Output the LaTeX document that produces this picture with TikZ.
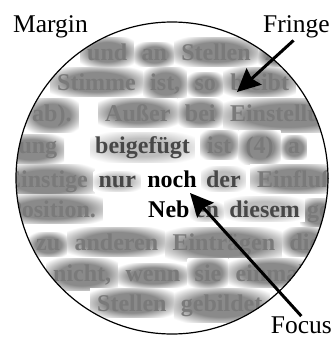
\documentclass[tikz,border=0pt]{standalone}
\usepackage{fontspec}
\setmainfont{Liberation Serif}
\usepackage{tikz}
\usetikzlibrary{calc, positioning, arrows.meta}

% soft smudges behind out-of-focus words
\pgfdeclareradialshading{smudge}{\pgfpointorigin}{color(0bp)=(black!46); color(17bp)=(black!46); color(32bp)=(white); color(50bp)=(white)}
\pgfdeclareradialshading{smudgelight}{\pgfpointorigin}{color(0bp)=(black!26); color(15bp)=(black!26); color(31bp)=(white); color(50bp)=(white)}

% #1 name, #2 start, #3 words
\newcommand{\blurrow}[3]{%
  \foreach \w [count=\i, remember=\i as \j (initially 0)] in {#3}{%
    \ifnum\i=1
      \node[farword, anchor=base west] (#1-\i) at (#2) {\w};
    \else
      \node[farword, base right=0pt of #1-\j] (#1-\i) {\w};
    \fi
  }%
}

\begin{document}
\begin{tikzpicture}[x=1pt, y=-1pt,
  reading/.style={font=\fontsize{24}{28}\selectfont\bfseries},
  farword/.style={reading, inner xsep=7pt, inner ysep=6pt, text=black!52,
                  shade, shading=smudge},
  nearword/.style={reading, inner xsep=5pt, inner ysep=4pt, text=black!72,
                   shade, shading=smudgelight},
  sharpword/.style={reading, inner sep=0pt},
  tagtext/.style={inner sep=0pt, font=\fontsize{25.5}{30}\selectfont},
  pointer/.style={-{Stealth[length=23pt, width=22pt, inset=3pt]}, line width=3pt}
]
  \useasboundingbox (0,0) rectangle (336,341);
  \coordinate (centre) at (172,178);

  \begin{scope}
    \clip (centre) circle[radius=156];
    % far fringe
    \blurrow{rowa}{80,60}{und, an, Stellen, zu}
    \blurrow{rowb}{50,90}{Stimme, {ist,}, so, bleibt}
    \blurrow{rowc}{25,121}{ab).}
    \blurrow{rowd}{98,121}{Außer, bei, Einstellung}
    \blurrow{rowe}{-2,153}{nung}
    \blurrow{rowf}{200,153}{ist, (4), a}
    \blurrow{rowg}{-2,187}{Einstige}
    \blurrow{rowh}{250,187}{Einfluß}
    \blurrow{rowi}{0,217}{Position.}
    \blurrow{rowj}{300,217}{ge}
    \blurrow{rowk}{29,250}{zu, anderen, Einträgen, die}
    \blurrow{rowl}{46,281}{{nicht,}, wenn, sie, einmal}
    \blurrow{rowm}{90,311}{Stellen, gebildet}
    % near fringe
    \node[sharpword, anchor=base] (noch) at (172,187) {noch};
    \node[sharpword, anchor=base west] (neb) at (148,217) {Neb};
    \node[nearword, base left=6pt of noch] (nur) {nur};
    \node[nearword, base right=4pt of noch] (der) {der};
    \node[nearword, base right=0pt of neb] (en) {en};
    \node[nearword, base right=0pt of en] (diesem) {diesem};
    \node[nearword, anchor=base west] (beigefuegt) at (90,153) {beigefügt};
  \end{scope}
  \draw[line width=1.2pt] (centre) circle[radius=156];

  \node[tagtext, anchor=base west] (margin) at (13,32) {Margin};
  \node[tagtext, anchor=base east] (fringe) at (330,32) {Fringe};
  \node[tagtext, anchor=base east] (focus) at (332,333) {Focus};

  \coordinate (fringetip) at (237,92);
  \coordinate (focustip) at (190,193);
  \draw[pointer, shorten <=4pt] (fringe.south) -- (fringetip);
  \draw[pointer] (focus.north) -- (focustip);
\end{tikzpicture}
\end{document}
